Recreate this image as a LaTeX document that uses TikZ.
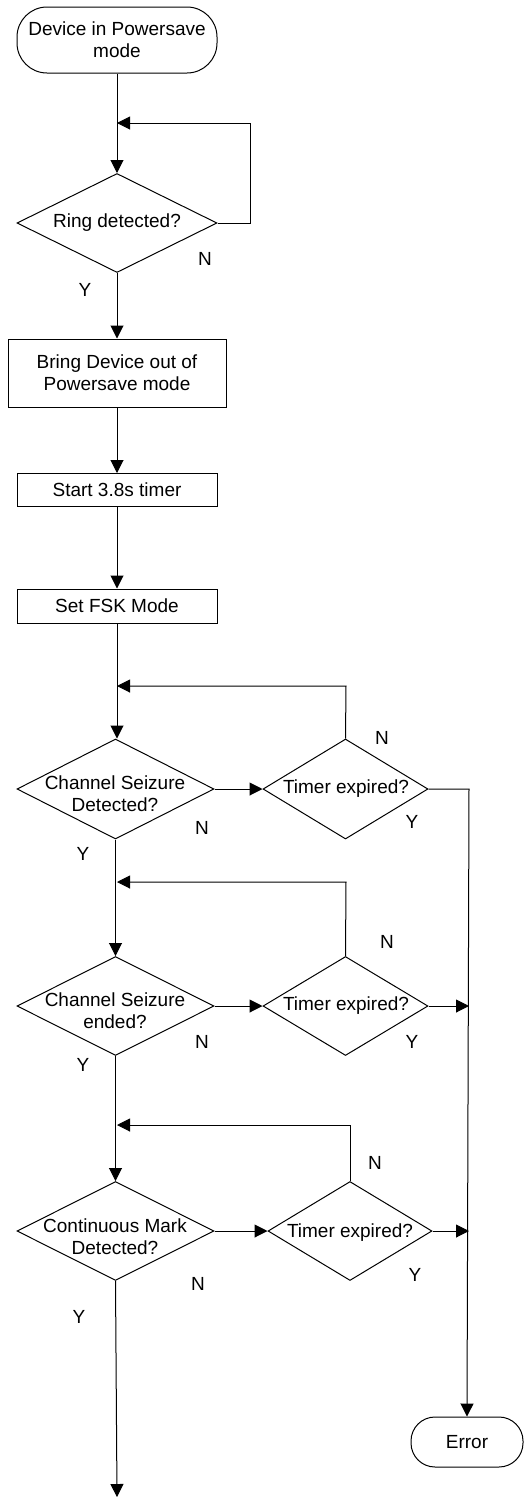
\documentclass[tikz,border=0pt]{standalone}
\usepackage{fontspec}
\setmainfont{Liberation Sans}
\usetikzlibrary{shapes.geometric,arrows.meta}
\begin{document}
\begin{tikzpicture}[x=1pt,y=-1pt,
 every node/.style={font=\fontsize{19}{22}\selectfont},
 line/.style={line width=1pt},
 arr/.style={line, -{Triangle[length=13pt,width=13pt]}},
 term/.style={draw,line width=1pt,rounded corners=#1,align=center,inner sep=0pt},
 proc/.style={draw,line width=1pt,align=center,inner sep=0pt},
 dec/.style={draw,line width=1pt,diamond,inner sep=0pt,shape aspect=2},
 dtxt/.style={align=center,inner sep=0pt},
 yn/.style={inner sep=0pt}]
\useasboundingbox (0,0) rectangle (528,1497);

% main column
\node[term=30pt,minimum width=200pt,minimum height=66pt] (start) at (117,40) {Device in Powersave\\mode};
\node[dec,minimum width=200pt,minimum height=99pt] (d1) at (117,223) {};
\node[dtxt] at (117,223) {Ring detected?};
\node[proc,minimum width=218pt,minimum height=68pt] (b2) at (117,373) {Bring Device out of\\Powersave mode};
\node[proc,minimum width=200pt,minimum height=33pt] (b3) at (117,490) {Start 3.8s timer};
\node[proc,minimum width=200pt,minimum height=34pt] (b4) at (117,606) {Set FSK Mode};

\node[dec,minimum width=197pt,minimum height=100pt] (d2) at (115.5,789) {};
\node[dtxt] at (115,794) {Channel Seizure\\Detected?};
\node[dec,minimum width=165pt,minimum height=100pt] (t1) at (345.5,789) {};
\node[dtxt] at (346,789) {Timer expired?};

\node[dec,minimum width=197pt,minimum height=99pt] (d3) at (115.5,1006) {};
\node[dtxt] at (115,1011) {Channel Seizure\\ended?};
\node[dec,minimum width=165pt,minimum height=99pt] (t2) at (345.5,1006) {};
\node[dtxt] at (346,1006) {Timer expired?};

\node[dec,minimum width=197pt,minimum height=99pt] (d4) at (115.5,1231) {};
\node[dtxt] at (115,1237) {Continuous Mark\\Detected?};
\node[dec,minimum width=164pt,minimum height=99pt] (t3) at (350,1231) {};
\node[dtxt] at (350,1233) {Timer expired?};

\node[term=24pt,minimum width=112pt,minimum height=50pt] (err) at (467,1442) {Error};

% coordinates
\coordinate (j1) at (117,123);
\coordinate (r1) at (250,223);
\coordinate (q1) at (250,123);
\coordinate (j2) at (117,686);
\coordinate (q2) at (346,686);
\coordinate (j3) at (117,882);
\coordinate (q3) at (346,882);
\coordinate (j4) at (117,1125);
\coordinate (q4) at (350,1125);
\coordinate (rail1) at (469,789);
\coordinate (rail2) at (469,1006);
\coordinate (rail3) at (469,1231);
\coordinate (endp) at (117,1497);

% connectors main
\draw[arr] (start.south) -- (d1.north);
\draw[arr] (d1.east) -- (r1) -- (q1) -- (j1);
\draw[arr] (d1.south) -- (b2.north);
\draw[arr] (b2.south) -- (b3.north);
\draw[arr] (b3.south) -- (b4.north);
\draw[arr] (b4.south) -- (j2 |- d2.north);
\draw[arr] (t1.north) -- (q2) -- (j2);
\draw[arr] (d2.east) -- (t1.west);
\draw[arr] (d2.south) -- (d3.north);
\draw[arr] (t2.north) -- (q3) -- (j3);
\draw[arr] (d3.east) -- (t2.west);
\draw[arr] (d3.south) -- (d4.north);
\draw[arr] (t3.north) -- (q4) -- (j4);
\draw[arr] (d4.east) -- (t3.west);
\draw[arr] (d4.south) -- (endp);

% right rail
\draw[arr] (t1.east) -- (rail1) -- (err.north);
\draw[arr] (t2.east) -- (rail2);
\draw[arr] (t3.east) -- (rail3);

% labels
\node[yn] at (205,259) {N};
\node[yn] at (85,290) {Y};
\node[yn] at (202,828) {N};
\node[yn] at (83,854) {Y};
\node[yn] at (382,738) {N};
\node[yn] at (412,822) {Y};
\node[yn] at (202,1042) {N};
\node[yn] at (83,1065) {Y};
\node[yn] at (387,942) {N};
\node[yn] at (412,1042) {Y};
\node[yn] at (198,1284) {N};
\node[yn] at (79,1317) {Y};
\node[yn] at (375,1163) {N};
\node[yn] at (415,1275) {Y};
\end{tikzpicture}
\end{document}
